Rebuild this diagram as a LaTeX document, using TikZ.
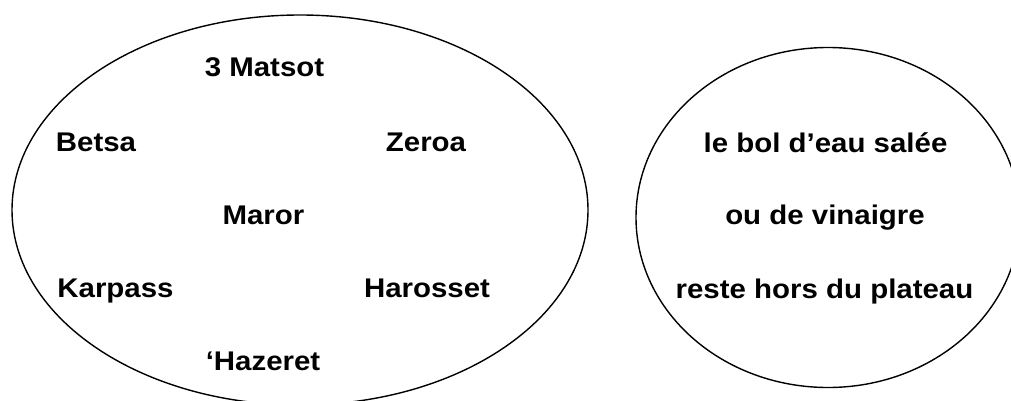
\documentclass[tikz,border=0pt]{standalone}
\usepackage{fontspec}
\setmainfont{Liberation Sans}[FakeStretch=1.09]
\begin{document}
\begin{tikzpicture}[x=1pt, y=-1pt,
  outline/.style={draw=black, line width=1.4pt},
  item/.style={anchor=base, inner sep=0pt, font=\fontsize{27}{31}\selectfont\bfseries}]
  \useasboundingbox (0,0) rectangle (1011,401);
  \begin{scope}
    \clip (0,0) rectangle (1011,401);
    % the Seder plate
    \draw[outline] (300,210) ellipse [x radius=288pt, y radius=195pt];
    % the bowl kept beside it
    \draw[outline] (828,217.5) ellipse [x radius=192pt, y radius=170pt];
  \end{scope}
  % items on the plate
  \node[item] (matsot)   at (264.5,77)  {3 Matsot};
  \node[item] (betsa)    at (96,151)    {Betsa};
  \node[item] (zeroa)    at (426,151)   {Zeroa};
  \node[item] (maror)    at (263.5,224) {Maror};
  \node[item] (karpass)  at (115.5,297) {Karpass};
  \node[item] (harosset) at (427,297)   {Harosset};
  \node[item] (hazeret)  at (263,370)   {‘Hazeret};
  % text inside the bowl
  \node[item] (bol)      at (825.5,152) {le bol d’eau salée};
  \node[item] (vinaigre) at (825,224)   {ou de vinaigre};
  \node[item] (hors)     at (824.5,298) {reste hors du plateau};
\end{tikzpicture}
\end{document}
